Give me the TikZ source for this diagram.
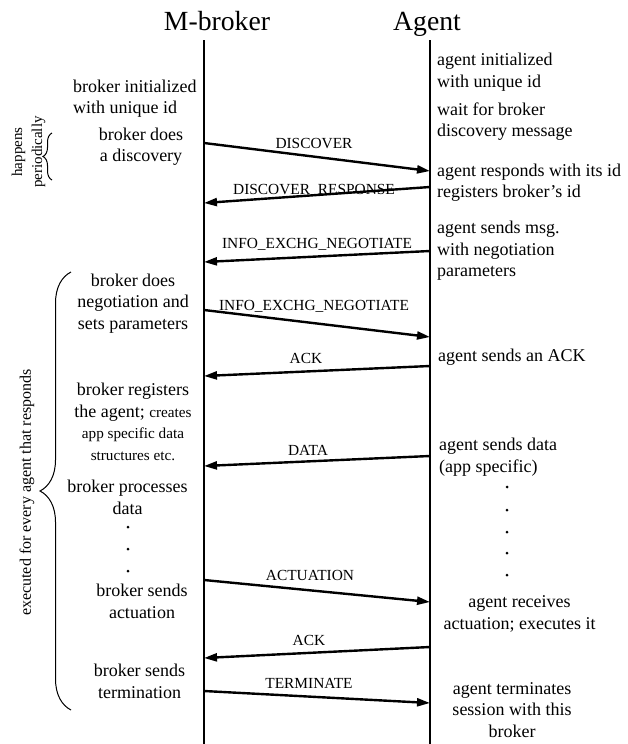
\documentclass[tikz,border=0pt]{standalone}
\usepackage{fontspec}
\setmainfont{Liberation Serif}
\usetikzlibrary{arrows.meta,decorations.pathreplacing}
\begin{document}
\begin{tikzpicture}[x=1pt,y=-1pt,
  msg/.style={line width=2.4pt,-{Triangle[length=13pt,width=8pt]}},
  life/.style={line width=1.2pt},
  lbl/.style={font=\fontsize{15.4}{18}\selectfont, inner sep=0pt, anchor=base},
  ctxt/.style={font=\fontsize{18}{21.5}\selectfont, inner sep=0pt, align=center},
  ltxt/.style={font=\fontsize{18}{21.5}\selectfont, inner sep=0pt, align=left, anchor=west},
  ttl/.style={font=\fontsize{27.7}{30}\selectfont, inner sep=0pt, anchor=base},
  rtxt/.style={inner sep=0pt, align=center, rotate=90},
  dotmark/.style={circle, fill, inner sep=0pt, minimum size=3pt},
  brc/.style={decorate, line width=1pt},
  ]
\useasboundingbox (0,0) rectangle (628,744);

% titles
\node[ttl] (tb) at (217,30) {M-broker};
\node[ttl] (ta) at (427,30) {Agent};

% lifelines
\coordinate (mtop) at (204,40);
\coordinate (mbot) at (204,744);
\coordinate (atop) at (430,40);
\coordinate (abot) at (430,744);
\draw[life] (mtop) -- (mbot);
\draw[life] (atop) -- (abot);

% message end points
\coordinate (m1) at (204,143); \coordinate (a1) at (430,171);
\coordinate (a2) at (430,187); \coordinate (m2) at (204,203);
\coordinate (a3) at (430,251); \coordinate (m3) at (204,262);
\coordinate (m4) at (204,310); \coordinate (a4) at (430,337);
\coordinate (a5) at (430,366); \coordinate (m5) at (204,376);
\coordinate (a6) at (430,456); \coordinate (m6) at (204,466);
\coordinate (m7) at (204,580); \coordinate (a7) at (430,602);
\coordinate (a8) at (430,647); \coordinate (m8) at (204,658);
\coordinate (m9) at (204,691); \coordinate (a9) at (430,703);

\draw[msg] (m1) -- (a1);
\draw[msg] (a2) -- (m2);
\draw[msg] (a3) -- (m3);
\draw[msg] (m4) -- (a4);
\draw[msg] (a5) -- (m5);
\draw[msg] (a6) -- (m6);
\draw[msg] (m7) -- (a7);
\draw[msg] (a8) -- (m8);
\draw[msg] (m9) -- (a9);

% message labels
\node[lbl] (l1) at (314,148) {DISCOVER};
\node[lbl] (l2) at (314,194) {DISCOVER\_RESPONSE};
\node[lbl] (l3) at (317,248) {INFO\_EXCHG\_NEGOTIATE};
\node[lbl] (l4) at (314,310) {INFO\_EXCHG\_NEGOTIATE};
\node[lbl] (l5) at (306,363) {ACK};
\node[lbl] (l6) at (308,455) {DATA};
\node[lbl] (l7) at (310,580) {ACTUATION};
\node[lbl] (l8) at (309,645) {ACK};
\node[lbl] (l9) at (309,688) {TERMINATE};

% broker side texts
\node[ltxt] (b0) at (73,98.5) {broker initialized\\with unique id};
\node[ctxt] (b1) at (141,146.5) {broker does\\a discovery};
\node[ctxt] (b2) at (133,303.5) {broker does\\negotiation and\\sets parameters};
\node[ctxt] (b3) at (133,422) {broker registers\\the agent; {\fontsize{15.2}{19}\selectfont creates}\\{\fontsize{15.2}{19}\selectfont app specific data}\\{\fontsize{15.2}{19}\selectfont structures etc.}};
\node[ctxt] (b4) at (127.5,497.5) {broker processes\\data};
\node[dotmark] (bd1) at (128,527) {};
\node[dotmark] (bd2) at (128,549) {};
\node[dotmark] (bd3) at (128,571) {};
\node[ctxt] (b5) at (142,601.5) {broker sends\\actuation};
\node[ctxt] (b6) at (139.5,681.5) {broker sends\\termination};

% agent side texts
\node[ltxt] (g0) at (437,72) {agent initialized\\with unique id};
\node[ltxt] (g1) at (437,121.5) {wait for broker\\discovery message};
\node[ltxt] (g2) at (437,182.5) {agent responds with its id\\registers broker's id};
\node[ltxt] (g3) at (437,251) {agent sends msg.\\with negotiation\\parameters};
\node[ltxt] (g4) at (438,357) {agent sends an ACK};
\node[ltxt] (g5) at (439,457) {agent sends data\\(app specific)};
\node[dotmark] (gd1) at (507,487) {};
\node[dotmark] (gd2) at (507,510) {};
\node[dotmark] (gd3) at (507,532) {};
\node[dotmark] (gd4) at (507,553) {};
\node[dotmark] (gd5) at (507,575) {};
\node[ctxt] (g6) at (519.5,614) {agent receives\\actuation; executes it};
\node[ctxt] (g7) at (512,710) {agent terminates\\session with this\\broker};

% braces
\coordinate (s1) at (52,180); \coordinate (s2) at (52,133);
\draw[brc, decoration={brace, amplitude=9pt}] (s1) -- (s2);
\node[rtxt, font=\fontsize{15}{20}\selectfont] (hp) at (28.5,152) {happens\\periodically};
\coordinate (e1) at (71,710); \coordinate (e2) at (71,272);
\draw[brc, decoration={brace, amplitude=31pt}] (e1) -- (e2);
\node[rtxt, font=\fontsize{16}{19}\selectfont] (ex) at (27,492.5) {executed for every agent that responds};
\end{tikzpicture}
\end{document}
